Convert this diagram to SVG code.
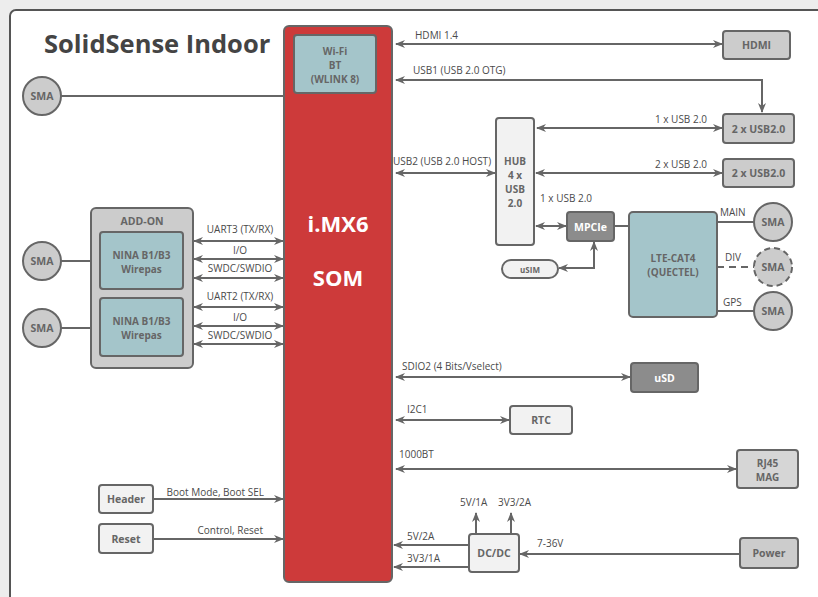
<svg xmlns="http://www.w3.org/2000/svg" width="818" height="597" viewBox="0 0 818 597">
<style>
text{font-family:"Open Sans","Noto Sans","DejaVu Sans",sans-serif;fill:#4a4a4a}
.lbl{font-size:10px}
.bx{font-size:10.5px;font-weight:bold;fill:#666;text-anchor:middle}
.ml{font-size:10px}
.wb{font-size:10.5px;font-weight:bold;fill:#fff;text-anchor:middle}
.box{stroke:#666;stroke-width:2}
.g1{fill:#cccccc}.g2{fill:#f2f2f2}.g3{fill:#8c8c8c}.tl{fill:#a4c5ca}.g4{fill:#d6d6d6}
.c{fill:none;stroke:#666;stroke-width:2}
.d{marker-start:url(#a);marker-end:url(#a)}
.e{marker-end:url(#a)}
</style>
<defs>
<marker id="a" viewBox="0 0 10 8" refX="9" refY="4" markerWidth="10" markerHeight="8" markerUnits="userSpaceOnUse" orient="auto-start-reverse"><path d="M0,0 L10,4 L0,8 L3,4 z" fill="#666"/></marker>
</defs>
<rect x="0" y="0" width="818" height="597" fill="#ededed"/>
<rect x="10" y="10" width="840" height="620" rx="6" fill="#fff" stroke="#555" stroke-width="2"/>
<text x="44" y="53" font-size="25.5" font-weight="bold" style="fill:#444">SolidSense Indoor</text>

<g id="connectors">
<line class="c" x1="61" y1="96" x2="284" y2="96"/>
<line class="c d" x1="396" y1="44" x2="722" y2="44"/>
<path class="c d" d="M396,80 H762 V112"/>
<line class="c d" x1="537" y1="128" x2="722" y2="128"/>
<line class="c d" x1="396" y1="173" x2="495" y2="173"/>
<line class="c d" x1="536" y1="173" x2="722" y2="173"/>
<line class="c d" x1="536" y1="226" x2="566" y2="226"/>
<path class="c d" d="M594,242 V268 H559"/>
<line class="c" x1="614" y1="226" x2="629" y2="226"/>
<line class="c" x1="717" y1="222" x2="754" y2="222"/>
<line class="c" x1="717" y1="267" x2="754" y2="267" stroke-dasharray="7,5"/>
<line class="c" x1="717" y1="311" x2="754" y2="311"/>
<line class="c" x1="61" y1="261" x2="91" y2="261"/>
<line class="c" x1="61" y1="328" x2="91" y2="328"/>
<line class="c d" x1="194" y1="241" x2="283" y2="241"/>
<line class="c d" x1="194" y1="259" x2="283" y2="259"/>
<line class="c d" x1="194" y1="278" x2="283" y2="278"/>
<line class="c d" x1="194" y1="307" x2="283" y2="307"/>
<line class="c d" x1="194" y1="326" x2="283" y2="326"/>
<line class="c d" x1="194" y1="344" x2="283" y2="344"/>
<line class="c d" x1="396" y1="377" x2="630" y2="377"/>
<line class="c d" x1="396" y1="420" x2="509" y2="420"/>
<line class="c d" x1="396" y1="469" x2="736" y2="469"/>
<line class="c e" x1="153" y1="499" x2="283" y2="499"/>
<line class="c e" x1="153" y1="539" x2="283" y2="539"/>
<line class="c e" x1="469" y1="545" x2="394" y2="545"/>
<line class="c e" x1="469" y1="567" x2="394" y2="567"/>
<line class="c e" x1="476" y1="534" x2="476" y2="513"/>
<line class="c e" x1="511" y1="534" x2="511" y2="513"/>
<line class="c e" x1="740" y1="554" x2="520" y2="554"/>
</g>

<g id="labels" class="lbl" dominant-baseline="central">
<text x="415" y="35">HDMI 1.4</text>
<text x="413" y="70">USB1 (USB 2.0 OTG)</text>
<text x="707" y="119" text-anchor="end">1 x USB 2.0</text>
<text x="393" y="161">USB2 (USB 2.0 HOST)</text>
<text x="707" y="164" text-anchor="end">2 x USB 2.0</text>
<text x="540" y="198">1 x USB 2.0</text>
<text x="720" y="212">MAIN</text>
<text x="725" y="257">DIV</text>
<text x="723" y="302">GPS</text>
<text x="240" y="229" text-anchor="middle">UART3 (TX/RX)</text>
<text x="240" y="250" text-anchor="middle">I/O</text>
<text x="240" y="268" text-anchor="middle">SWDC/SWDIO</text>
<text x="240" y="296" text-anchor="middle">UART2 (TX/RX)</text>
<text x="240" y="317" text-anchor="middle">I/O</text>
<text x="240" y="335" text-anchor="middle">SWDC/SWDIO</text>
<text x="402" y="366">SDIO2 (4 Bits/Vselect)</text>
<text x="407" y="409">I2C1</text>
<text x="399" y="454">1000BT</text>
<text x="264" y="492" text-anchor="end">Boot Mode, Boot SEL</text>
<text x="263" y="530" text-anchor="end">Control, Reset</text>
<text x="407" y="536">5V/2A</text>
<text x="407" y="558">3V3/1A</text>
<text x="460" y="502">5V/1A</text>
<text x="498" y="502">3V3/2A</text>
<text x="537" y="543">7-36V</text>
</g>

<g id="sma1"><circle cx="42" cy="96" r="19" class="box g1"/><text x="42" y="96" class="bx" dominant-baseline="central">SMA</text></g>
<g id="som"><rect x="284" y="26" width="108" height="556" rx="5" fill="#cd3a3a" stroke="#666" stroke-width="2"/>
<text x="338" y="223" font-size="22" font-weight="bold" text-anchor="middle" dominant-baseline="central" style="fill:#fff">i.MX6</text>
<text x="338" y="277" font-size="22" font-weight="bold" text-anchor="middle" dominant-baseline="central" style="fill:#fff">SOM</text></g>
<g id="wifi"><rect x="294" y="35" width="82" height="58" rx="3" class="box tl"/>
<text class="bx ml" x="335" y="51" dominant-baseline="central">Wi-Fi</text><text class="bx ml" x="335" y="65" dominant-baseline="central">BT</text><text class="bx ml" x="335" y="79" dominant-baseline="central">(WLINK 8)</text></g>
<g id="hdmi"><rect x="723" y="31" width="67" height="28" rx="3" class="box g1"/><text class="bx" x="756.5" y="45" dominant-baseline="central">HDMI</text></g>
<g id="usb2a"><rect x="723" y="114" width="71" height="29" rx="3" class="box g1"/><text class="bx" x="758.5" y="128.5" dominant-baseline="central">2 x USB2.0</text></g>
<g id="usb2b"><rect x="723" y="159" width="71" height="28" rx="3" class="box g1"/><text class="bx" x="758.5" y="173" dominant-baseline="central">2 x USB2.0</text></g>
<g id="hub"><rect x="496" y="118" width="38" height="127" rx="3" class="box g2"/>
<text class="bx ml" x="515" y="161" dominant-baseline="central">HUB</text><text class="bx ml" x="515" y="175" dominant-baseline="central">4 x</text><text class="bx ml" x="515" y="189" dominant-baseline="central">USB</text><text class="bx ml" x="515" y="203" dominant-baseline="central">2.0</text></g>
<g id="mpcie"><rect x="567" y="212" width="47" height="29" rx="3" class="box g3"/><text class="wb" x="590.5" y="226.5" dominant-baseline="central">MPCIe</text></g>
<g id="usim"><rect x="502" y="260" width="56" height="18" rx="9" class="box g2"/><text x="530" y="269" font-size="8" font-weight="bold" text-anchor="middle" dominant-baseline="central" style="fill:#666">uSIM</text></g>
<g id="lte"><rect x="629" y="212" width="88" height="105" rx="4" class="box tl"/>
<text class="bx ml" x="673" y="258" dominant-baseline="central">LTE-CAT4</text><text class="bx ml" x="673" y="272" dominant-baseline="central">(QUECTEL)</text></g>
<g id="sma_main"><circle cx="773" cy="222" r="19" class="box g1"/><text x="773" y="222" class="bx" dominant-baseline="central">SMA</text></g>
<g id="sma_div"><circle cx="773" cy="267" r="19" class="box g1" stroke-dasharray="6,4"/><text x="773" y="267" class="bx" dominant-baseline="central">SMA</text></g>
<g id="sma_gps"><circle cx="773" cy="311" r="19" class="box g1"/><text x="773" y="311" class="bx" dominant-baseline="central">SMA</text></g>
<g id="addon"><rect x="91" y="208" width="102" height="160" rx="5" class="box g1"/><text class="bx" x="142" y="221" dominant-baseline="central">ADD-ON</text></g>
<g id="nina1"><rect x="100" y="232" width="83" height="57" rx="3" class="box tl"/><text class="bx ml" x="141.5" y="255" dominant-baseline="central">NINA B1/B3</text><text class="bx ml" x="141.5" y="269" dominant-baseline="central">Wirepas</text></g>
<g id="nina2"><rect x="100" y="298" width="83" height="58" rx="3" class="box tl"/><text class="bx ml" x="141.5" y="321" dominant-baseline="central">NINA B1/B3</text><text class="bx ml" x="141.5" y="335" dominant-baseline="central">Wirepas</text></g>
<g id="sma2"><circle cx="42" cy="261" r="19" class="box g1"/><text x="42" y="261" class="bx" dominant-baseline="central">SMA</text></g>
<g id="sma3"><circle cx="42" cy="328" r="19" class="box g1"/><text x="42" y="328" class="bx" dominant-baseline="central">SMA</text></g>
<g id="usd"><rect x="631" y="363" width="67" height="29" rx="3" class="box g3"/><text class="wb" x="664.5" y="377.5" dominant-baseline="central">uSD</text></g>
<g id="rtc"><rect x="510" y="406" width="62" height="28" rx="3" class="box g2"/><text class="bx" x="541" y="420" dominant-baseline="central">RTC</text></g>
<g id="rj45"><rect x="737" y="450" width="61" height="38" rx="3" class="box g4"/><text class="bx ml" x="767.5" y="462.5" dominant-baseline="central">RJ45</text><text class="bx ml" x="767.5" y="476.5" dominant-baseline="central">MAG</text></g>
<g id="header"><rect x="99" y="485" width="54" height="28" rx="3" class="box g2"/><text class="bx" x="126" y="499" dominant-baseline="central">Header</text></g>
<g id="reset"><rect x="99" y="524" width="54" height="29" rx="3" class="box g2"/><text class="bx" x="126" y="538.5" dominant-baseline="central">Reset</text></g>
<g id="dcdc"><rect x="469" y="534" width="50" height="38" rx="3" class="box g2"/><text class="bx" x="494" y="553" dominant-baseline="central">DC/DC</text></g>
<g id="power"><rect x="740" y="538" width="58" height="30" rx="3" class="box g1"/><text class="bx" x="769" y="553" dominant-baseline="central">Power</text></g>
</svg>
